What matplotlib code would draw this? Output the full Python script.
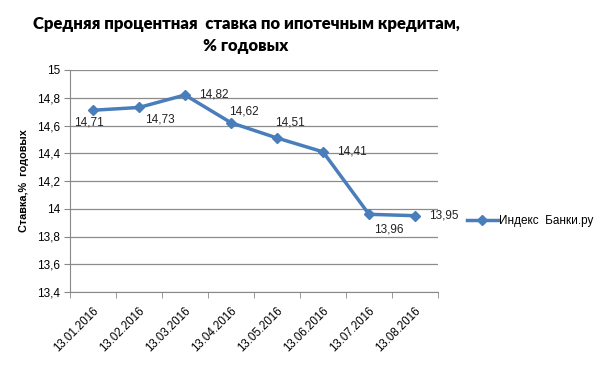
import matplotlib.pyplot as plt
from matplotlib.ticker import FixedLocator

dates = ['13.01.2016', '13.02.2016', '13.03.2016', '13.04.2016',
         '13.05.2016', '13.06.2016', '13.07.2016', '13.08.2016']
rates = [14.71, 14.73, 14.82, 14.62, 14.51, 14.41, 13.96, 13.95]
yticks = [13.4, 13.6, 13.8, 14.0, 14.2, 14.4, 14.6, 14.8, 15.0]
ytick_labels = ['13,4', '13,6', '13,8', '14', '14,2', '14,4', '14,6', '14,8', '15']

# смещения подписей (в пунктах) относительно точек
label_offsets = [(-14, -9), (4, -9), (10, 0), (-1.5, 8), (-1.5, 11), (10, 0), (3.5, -11), (10, 0)]

blue = '#4A7EBB'
plt.rcParams['font.family'] = ['Liberation Sans', 'DejaVu Sans']

fig = plt.figure(figsize=(6.04, 3.76), dpi=100)
ax = fig.add_axes([70 / 604, 1 - 292 / 376, 368 / 604, 222 / 376])

x = list(range(len(dates)))
ax.plot(x, rates, color=blue, lw=2.5, marker='D', ms=5.5, label='Индекс  Банки.ру')

for i, (v, off) in enumerate(zip(rates, label_offsets)):
    ax.annotate(f'{v:.2f}'.replace('.', ','), (i, v), xytext=off, textcoords='offset points',
                ha='left', va='center', fontsize=8.5, color='#222222')

ax.set_xlim(-0.5, len(dates) - 0.5)
ax.set_ylim(13.4, 15.0)
ax.set_yticks(yticks)
ax.set_yticklabels(ytick_labels, fontsize=8.5)
ax.set_xticks(x)
ax.set_xticklabels(dates, rotation=45, ha='right', rotation_mode='anchor', fontsize=8.3)
ax.xaxis.set_minor_locator(FixedLocator([i - 0.5 for i in range(len(dates) + 1)]))
ax.tick_params(axis='x', which='major', length=0, pad=9)
ax.tick_params(axis='x', which='minor', length=4, color='#888888')
ax.tick_params(axis='y', length=4, color='#888888', pad=3)

ax.grid(axis='y', color='#8C8C8C', lw=0.9)
ax.set_axisbelow(True)
for s in ['top', 'right']:
    ax.spines[s].set_visible(False)
for s in ['left', 'bottom']:
    ax.spines[s].set_color('#888888')

ax.set_ylabel('Ставка,%  годовых', fontsize=7.8, fontweight='bold', labelpad=6)

fig.text(246 / 604, 1 - 35 / 376, 'Средняя процентная  ставка по ипотечным кредитам,\n% годовых',
         ha='center', va='center', fontsize=12, fontweight='heavy', linespacing=1.5,
         family=['Lato', 'DejaVu Sans'])

ax.legend(loc='center left', bbox_to_anchor=(1.05, 0.32), frameon=False, fontsize=8.5,
          handlelength=2.6, handletextpad=0.1)

fig.savefig('out.png', dpi=100)
